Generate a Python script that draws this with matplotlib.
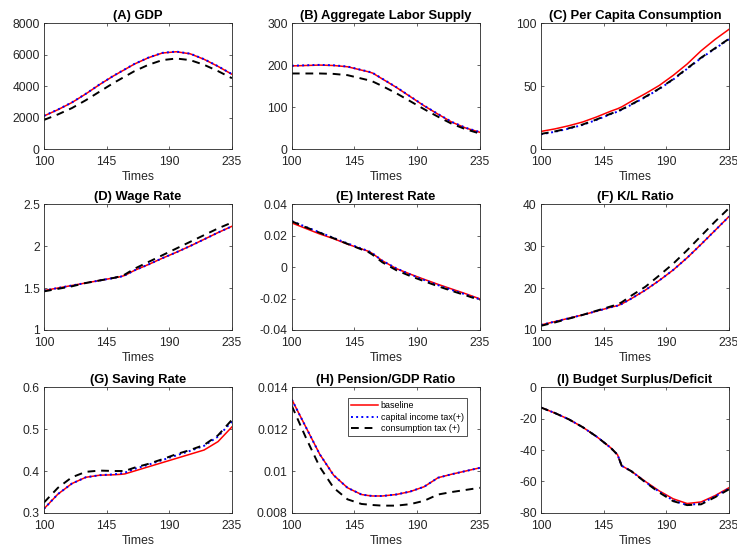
import numpy as np
import matplotlib
matplotlib.use("Agg")
import matplotlib.pyplot as plt
from matplotlib.ticker import FuncFormatter

plt.rcParams['font.family'] = ['Liberation Sans', 'DejaVu Sans']

t = [100, 110, 120, 130, 140, 150, 155, 158, 165, 175, 185, 195, 205, 215, 225, 235]

gdp_base = [2100, 2500, 2950, 3500, 4100, 4650, 4900, 5050, 5400, 5800, 6100, 6180, 6050, 5700, 5250, 4750]
gdp_cap = [2110, 2510, 2960, 3510, 4110, 4660, 4910, 5060, 5410, 5810, 6110, 6190, 6060, 5710, 5260, 4760]
gdp_cons = [1850, 2200, 2600, 3100, 3650, 4200, 4450, 4600, 4950, 5350, 5650, 5750, 5650, 5350, 4950, 4500]

lab_base = [198, 199, 200, 199, 196, 188, 184, 181, 167, 147, 125, 103, 83, 64, 50, 40]
lab_cap = [198.5, 199.5, 200.5, 199.5, 196.5, 188.5, 184.5, 181.5, 167.5, 147.5, 125.5, 103.5, 83.5, 64.5, 50.5, 40.5]
lab_cons = [180, 180, 180, 179, 176, 168, 164, 161, 150, 133, 114, 95, 77, 60, 47, 37]

con_base = [14, 16, 18.5, 21.5, 25.5, 30, 32, 33.5, 38, 44, 50.5, 58.5, 67.5, 78, 87, 95]
con_cap = [11.7, 13.7, 16.2, 19.2, 23.2, 27.7, 29.7, 31.2, 35.2, 41.2, 47.7, 55.2, 63.7, 72.2, 79.7, 87.2]
con_cons = [12, 14, 16.5, 19.5, 23.5, 28, 30, 31.5, 35.5, 41.5, 48, 55.5, 64, 72.5, 80, 87.5]

wage_base = [1.47, 1.50, 1.53, 1.56, 1.59, 1.62, 1.635, 1.65, 1.71, 1.78, 1.855, 1.925, 2.0, 2.08, 2.16, 2.235]
wage_cap = [1.47, 1.50, 1.53, 1.56, 1.59, 1.62, 1.635, 1.65, 1.71, 1.78, 1.855, 1.925, 2.0, 2.08, 2.16, 2.235]
wage_cons = [1.46, 1.49, 1.52, 1.56, 1.59, 1.62, 1.64, 1.66, 1.73, 1.81, 1.89, 1.97, 2.05, 2.13, 2.21, 2.28]

int_base = [0.028, 0.0245, 0.021, 0.018, 0.0145, 0.0115, 0.0100, 0.0085, 0.004, -0.001, -0.0045, -0.0078, -0.011, -0.014, -0.017, -0.0202]
int_cap = [0.0292, 0.0255, 0.022, 0.0185, 0.015, 0.0117, 0.0102, 0.0087, 0.0040, -0.0008, -0.0047, -0.0082, -0.0115, -0.0146, -0.0175, -0.0205]
int_cons = [0.029, 0.0253, 0.0218, 0.0183, 0.0147, 0.0112, 0.0095, 0.0078, 0.0030, -0.0020, -0.0057, -0.0090, -0.0122, -0.0152, -0.0180, -0.0210]

kl_base = [11.2, 12, 12.8, 13.6, 14.5, 15.4, 15.8, 16.2, 17.5, 19.5, 21.8, 24.3, 27.2, 30.4, 33.7, 37]
kl_cap = [11.2, 12, 12.8, 13.6, 14.5, 15.4, 15.8, 16.2, 17.5, 19.5, 21.8, 24.3, 27.2, 30.4, 33.7, 37]
kl_cons = [11, 11.8, 12.7, 13.6, 14.6, 15.6, 16.1, 16.6, 18.2, 20.3, 23, 25.8, 29, 32.4, 35.8, 39]

sav_base = [0.31, 0.345, 0.37, 0.385, 0.39, 0.391, 0.392, 0.393, 0.40, 0.41, 0.42, 0.43, 0.44, 0.45, 0.47, 0.505]
sav_cap = [0.31, 0.345, 0.37, 0.385, 0.39, 0.392, 0.394, 0.396, 0.405, 0.415, 0.426, 0.437, 0.448, 0.46, 0.482, 0.518]
sav_cons = [0.325, 0.36, 0.385, 0.398, 0.401, 0.40, 0.40, 0.40, 0.408, 0.417, 0.428, 0.44, 0.45, 0.462, 0.485, 0.522]

pen_base = [0.0134, 0.0121, 0.0108, 0.0098, 0.0092, 0.00888, 0.00883, 0.00881, 0.00881, 0.00888, 0.00902, 0.00925, 0.00968, 0.00985, 0.01000, 0.01015]
pen_cap = [0.0134, 0.0121, 0.0108, 0.0098, 0.0092, 0.00888, 0.00883, 0.00881, 0.00881, 0.00888, 0.00902, 0.00925, 0.00968, 0.00985, 0.01000, 0.01015]
pen_cons = [0.0131, 0.0116, 0.0102, 0.0092, 0.00865, 0.00843, 0.00840, 0.00838, 0.00835, 0.00835, 0.00842, 0.00858, 0.00888, 0.00900, 0.00910, 0.00920]

bud_base = [-13, -16.5, -20.5, -25.5, -31.5, -38.5, -43, -50, -53.5, -60, -66, -71, -74, -73, -69, -64]
bud_cap = [-13, -16.5, -20.5, -25.5, -31.5, -38.5, -43, -50, -53.5, -60.3, -66.5, -72, -75, -74, -69.5, -64.5]
bud_cons = [-13, -16.5, -20.5, -25.5, -31.5, -38.5, -43, -50, -53.5, -60.5, -67, -72.5, -75, -74.5, -70, -65]

panels = [
    ("(A) GDP", gdp_base, gdp_cap, gdp_cons, [0, 2000, 4000, 6000, 8000]),
    ("(B) Aggregate Labor Supply", lab_base, lab_cap, lab_cons, [0, 100, 200, 300]),
    ("(C) Per Capita Consumption", con_base, con_cap, con_cons, [0, 50, 100]),
    ("(D) Wage Rate", wage_base, wage_cap, wage_cons, [1, 1.5, 2, 2.5]),
    ("(E) Interest Rate", int_base, int_cap, int_cons, [-0.04, -0.02, 0, 0.02, 0.04]),
    ("(F) K/L Ratio", kl_base, kl_cap, kl_cons, [10, 20, 30, 40]),
    ("(G) Saving Rate", sav_base, sav_cap, sav_cons, [0.3, 0.4, 0.5, 0.6]),
    ("(H) Pension/GDP Ratio", pen_base, pen_cap, pen_cons, [0.008, 0.01, 0.012, 0.014]),
    ("(I) Budget Surplus/Deficit", bud_base, bud_cap, bud_cons, [-80, -60, -40, -20, 0]),
]

fig = plt.figure(figsize=(7.37, 5.5), dpi=100)
lefts = [0.0597, 0.396, 0.734]
bottoms = [0.729, 0.40, 0.0673]
w, h = 0.255, 0.229
gray = '#262626'

for i, (title, base, cap, cons, yt) in enumerate(panels):
    ax = fig.add_axes([lefts[i % 3], bottoms[i // 3], w, h])
    ax.plot(t, base, color='red', lw=1.1, label='baseline')
    ax.plot(t, cap, color='blue', lw=1.4, ls=':', label='capital income tax(+)')
    ax.plot(t, cons, color='black', lw=1.4, ls=(0, (4, 3)), label='consumption tax (+)')
    ax.set_xlim(100, 235)
    ax.set_ylim(yt[0], yt[-1])
    ax.set_xticks([100, 145, 190, 235])
    ax.set_yticks(yt)
    ax.yaxis.set_major_formatter(FuncFormatter(lambda v, p: '%g' % round(v, 6)))
    ax.tick_params(direction='in', top=True, right=True, length=2.5, width=0.5,
                   labelsize=8.7, colors=gray)
    ax.tick_params(axis='x', pad=5)
    ax.tick_params(axis='y', pad=3)
    for s in ax.spines.values():
        s.set_linewidth(0.6)
        s.set_color(gray)
    ax.set_title(title, fontsize=9.4, fontweight='bold', pad=3)
    ax.set_xlabel('Times', fontsize=8.8, color=gray, labelpad=2)
    if i == 7:
        ax.legend(loc='upper right', bbox_to_anchor=(0.93, 0.91), fontsize=6.4,
                  frameon=True, fancybox=False, edgecolor='black', borderpad=0.35,
                  handlelength=3.0, handletextpad=0.3, labelspacing=0.25,
                  borderaxespad=0).get_frame().set_linewidth(0.6)

fig.savefig('out.png', dpi=100)
